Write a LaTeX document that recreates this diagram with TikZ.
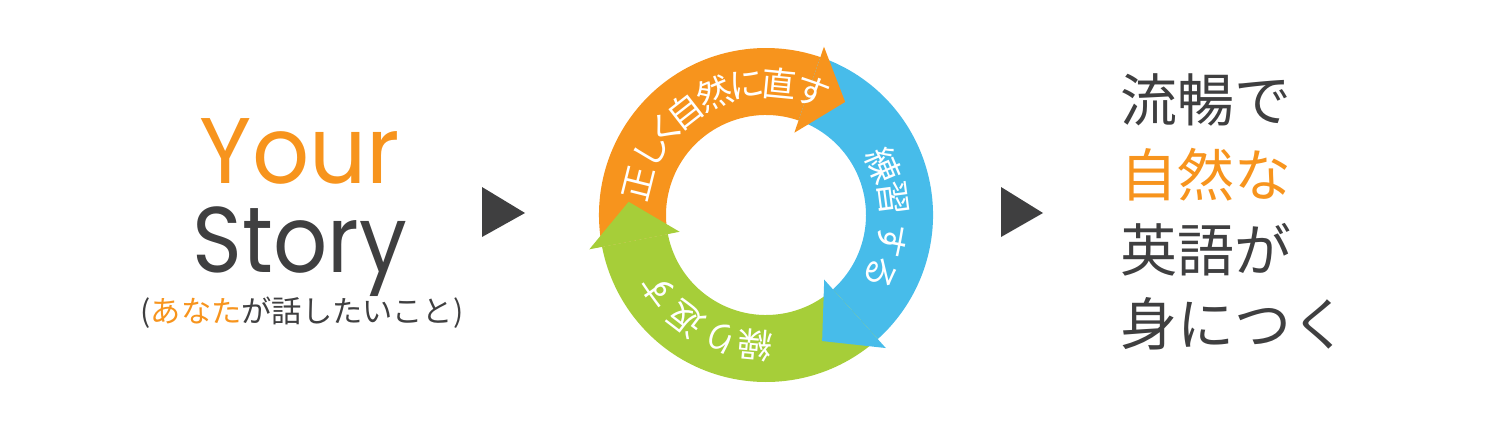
\documentclass[tikz,border=0pt]{standalone}
\usepackage{fontspec}
\setmainfont{Poppins}
\newfontfamily\cjk{Noto Sans CJK JP}
\newfontfamily\yourfont[FakeStretch=0.96]{Poppins}
\newfontfamily\storyfont[FakeStretch=0.91]{Poppins}
\definecolor{cycorange}{HTML}{F7941D}
\definecolor{cycblue}{HTML}{47BCEA}
\definecolor{cycgreen}{HTML}{A6CE39}
\definecolor{textgray}{HTML}{3F3F40}

\begin{document}
\begin{tikzpicture}[x=0.01cm,y=0.01cm,
  arctext/.style={text=white,inner sep=0pt,font=\cjk\fontsize{9.9}{10}\selectfont},
  bigline/.style={anchor=west,inner sep=0pt,text=textgray,font=\cjk\fontsize{16.2}{17}\selectfont},
  story/.style={anchor=base,inner sep=0pt,text=textgray}]
\useasboundingbox (0,0) rectangle (1500,430);
\coordinate (c) at (766,215);

% ring
\fill[cycorange,shift={(c)}] (191:167) arc[start angle=191,end angle=71,radius=167]
  -- (71:100) arc[start angle=71,end angle=191,radius=100] -- cycle;
\fill[cycblue,shift={(c)}] (71:167) arc[start angle=71,end angle=-48,radius=167]
  -- (-48:100) arc[start angle=-48,end angle=71,radius=100] -- cycle;
\fill[cycgreen,shift={(c)}] (-48:167) arc[start angle=-48,end angle=-169,radius=167]
  -- (-169:100) arc[start angle=-169,end angle=-48,radius=100] -- cycle;
% heads
\fill[cycorange,shift={(c)}] (71:87) -- (71:178) -- (55:138) -- cycle;
\fill[cycblue,shift={(c)}] (-48:87) -- (-48:179) -- (-66:138) -- cycle;
\fill[cycgreen,shift={(c)}] (191:88) -- (191:180) -- (174.5:138) -- cycle;

\foreach \a/\ch [count=\i] in {166/正,150.5/し,139.5/く,128/自,113/然,98.5/に,84.5/直,69.5/す}
  \node[arctext,rotate=\a-90] (ot\i) at ([shift={(c)}]\a:132) {\ch};
\foreach \a/\ch [count=\i] in {23/練,7.5/習,-11.5/す,-26.5/る}
  \node[arctext,rotate=\a-90] (bt\i) at ([shift={(c)}]\a:128) {\ch};
\foreach \a/\ch [count=\i] in {-95/繰,-110/り,-127.5/返,-145/す}
  \node[arctext,rotate=\a-90] (gt\i) at ([shift={(c)}]\a:131) {\ch};

\node[story,text=cycorange,font=\yourfont\fontsize{26.5}{27}\selectfont] (your) at (300,247) {Your};
\node[story,font=\storyfont\fontsize{26.5}{27}\selectfont] (storyword) at (300,158) {Story};
\node[text=textgray,inner sep=0pt,font=\cjk\fontsize{8.6}{9}\selectfont] (wish) at (302,117)
  {(\textcolor{cycorange}{あなた}が話したいこと)};

\fill[textgray] (482,243) -- (482,193) -- (525,217) -- cycle;
\fill[textgray] (1001,243) -- (1001,193) -- (1043,217) -- cycle;

\node[bigline] (l1) at (1120,330) {流暢で};
\node[bigline,text=cycorange] (l2) at (1120,255) {自然な};
\node[bigline] (l3) at (1120,180) {英語が};
\node[bigline] (l4) at (1120,106) {身につく};
\end{tikzpicture}
\end{document}
